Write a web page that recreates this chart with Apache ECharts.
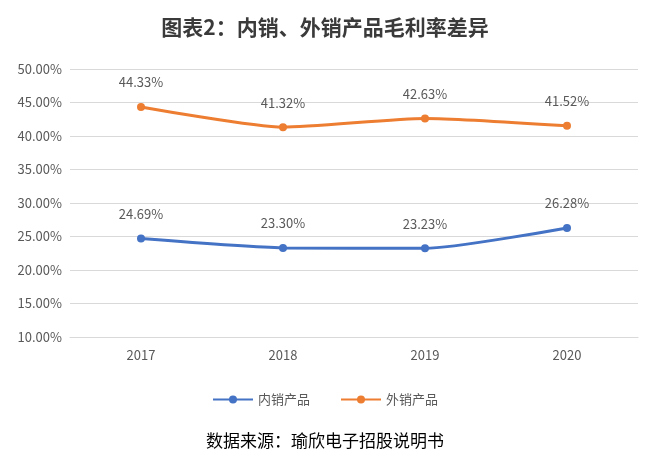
<!DOCTYPE html>
<html><head><meta charset="utf-8">
<script src="https://cdn.jsdelivr.net/npm/echarts@6/dist/echarts.min.js"></script>
<style>body{margin:0}#c{width:650px;height:469px}</style>
</head><body><div id="c"></div>
<script>
var years = ['2017', '2018', '2019', '2020'];
var domestic = [24.69, 23.30, 23.23, 26.28];
var foreign = [44.33, 41.32, 42.63, 41.52];
var chart = echarts.init(document.getElementById('c'));
var lbl = {
  show: true, position: 'top', distance: 14, color: '#595959', fontSize: 13,
  formatter: function (p) { return p.value.toFixed(2) + '%'; }
};
chart.setOption({
  backgroundColor: '#fff',
  textStyle: { fontFamily: 'Noto Sans CJK SC' },
  title: {
    text: '图表2：内销、外销产品毛利率差异', left: 'center', top: 12,
    textStyle: { fontSize: 21, fontWeight: 'bold', color: '#3a3a3a' }
  },
  graphic: [{
    type: 'text', left: 'center', top: 432,
    style: { text: '数据来源：瑜欣电子招股说明书', fill: '#000', font: '17px "Noto Sans CJK SC"' }
  }],
  legend: {
    bottom: 58, itemWidth: 40, itemHeight: 10, itemGap: 30,
    textStyle: { color: '#595959', fontSize: 13 },
    data: ['内销产品', '外销产品']
  },
  grid: { left: 70, right: 12, top: 69, bottom: 132 },
  xAxis: {
    type: 'category', data: years,
    axisLine: { lineStyle: { color: '#d9d9d9' } }, axisTick: { show: false },
    axisLabel: { color: '#595959', fontSize: 13, margin: 12 }
  },
  yAxis: {
    type: 'value', min: 10, max: 50, interval: 5,
    axisLabel: { color: '#595959', fontSize: 13, formatter: function (v) { return v.toFixed(2) + '%'; } },
    splitLine: { lineStyle: { color: '#d9d9d9' } }
  },
  series: [
    { name: '内销产品', type: 'line', data: domestic, smooth: 0.2, symbol: 'circle', symbolSize: 8,
      lineStyle: { width: 3, color: '#4472C4' }, itemStyle: { color: '#4472C4' }, label: lbl },
    { name: '外销产品', type: 'line', data: foreign, smooth: 0.2, symbol: 'circle', symbolSize: 8,
      lineStyle: { width: 3, color: '#ED7D31' }, itemStyle: { color: '#ED7D31' }, label: lbl }
  ]
});
</script></body></html>
